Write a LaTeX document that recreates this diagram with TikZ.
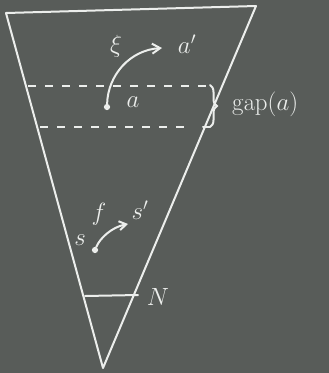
\documentclass[tikz,border=0pt]{standalone}
\usetikzlibrary{arrows.meta,decorations.pathreplacing}
\definecolor{board}{RGB}{88,92,89}
\definecolor{chalk}{RGB}{236,238,236}
\begin{document}
\begin{tikzpicture}[x=1pt,y=-1pt,
  chalkline/.style={draw=chalk,line width=2pt,line cap=round},
  dashline/.style={draw=chalk,line width=1.6pt,dash pattern=on 8pt off 9pt},
  lbl/.style={text=chalk,font=\fontsize{26}{28}\selectfont},
  pt/.style={circle,fill=chalk,inner sep=2.2pt}]
\fill[board] (0,0) rectangle (329,373);
\useasboundingbox (0,0) rectangle (329,373);
% triangle
\coordinate (tl) at (6,13);
\coordinate (tr) at (256,6);
\coordinate (bt) at (103,368);
\draw[chalkline,line join=round] (tl) -- (tr) -- (bt) -- cycle;
% dashed lines
\coordinate (d1l) at (28,86);
\coordinate (d1r) at (214,86);
\coordinate (d2l) at (40,127);
\coordinate (d2r) at (186,127);
\draw[dashline] (d1l) -- (d1r);
\draw[dashline] (d2l) -- (d2r);
% brace
\coordinate (b1) at (210,85);
\coordinate (b2) at (210,127);
\draw[chalkline] (b2) -- (203,127);
\draw[chalkline,decorate,decoration={brace,amplitude=7pt}] (b1) -- (b2);
\node[lbl,anchor=west,inner sep=0pt,font=\fontsize{33}{35}\selectfont] (gap) at (232,104) {$\mathrm{gap}(a)$};
% point a
\node[pt] (a) at (107,107) {};
\node[lbl] (alab) at (133,102) {$a$};
\coordinate (ahead) at (162,48);
\draw[chalkline,-{Straight Barb[length=8pt,width=10pt]}] (a) .. controls (108,75) and (130,50) .. (ahead);
\node[lbl] (ap) at (187,44) {$a'$};
\node[lbl] (xi) at (116,46) {$\xi$};
% point s
\node[pt] (s) at (95,250) {};
\node[lbl] (slab) at (80,240) {$s$};
\node[lbl] (flab) at (99,214) {$f$};
\node[lbl] (sp) at (140,210) {$s'$};
\coordinate (shead) at (128,224);
\draw[chalkline,-{Straight Barb[length=7pt,width=9pt]}] (s) .. controls (100,238) and (112,227) .. (shead);
% N line
\coordinate (nl) at (85,296);
\coordinate (nr) at (138,295);
\draw[chalkline] (nl) -- (nr);
\node[lbl] (N) at (158,297) {$N$};
\end{tikzpicture}
\end{document}
